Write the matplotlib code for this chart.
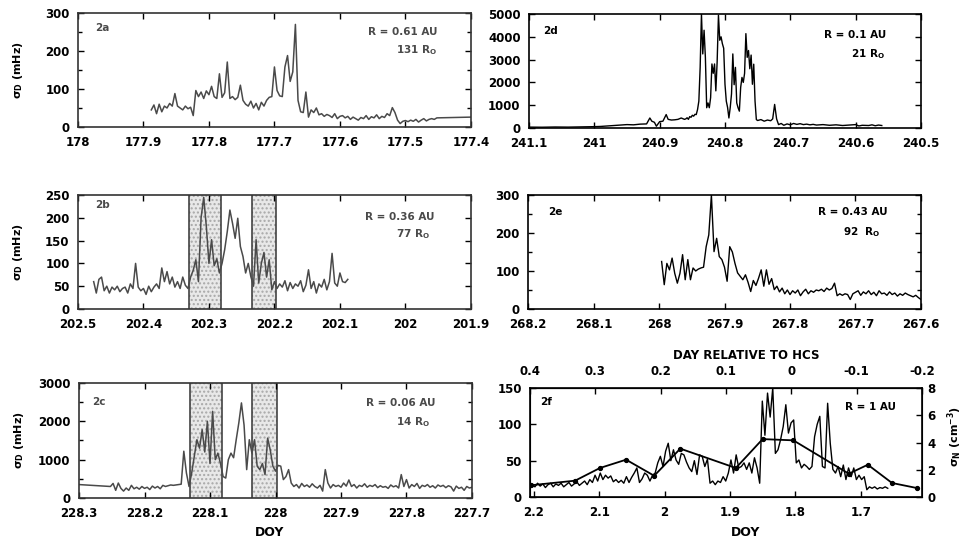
import matplotlib
matplotlib.use('Agg')
import matplotlib.pyplot as plt
import numpy as np
from matplotlib import ticker

plt.rcParams['font.family'] = ['DejaVu Sans']
plt.rcParams['font.weight'] = 'bold'
plt.rcParams['mathtext.fontset'] = 'custom'
plt.rcParams['mathtext.rm'] = 'DejaVu Sans:bold'
plt.rcParams['mathtext.it'] = 'DejaVu Sans:bold'
plt.rcParams['mathtext.bf'] = 'DejaVu Sans:bold'
plt.rcParams['axes.unicode_minus'] = False

# ---------------- data ----------------
# 2a  (R = 0.61 AU), sampled every 0.004 day from 177.888
a_start, a_step = 177.888, 0.004
a_vals = [45, 58, 35, 60, 40, 55, 50, 62, 55, 88, 55, 50, 45, 55, 48, 52, 30, 96, 80, 92,
          75, 95, 85, 107, 80, 75, 140, 78, 90, 171, 75, 80, 72, 78, 110, 70, 60, 55, 68, 50,
          62, 45, 65, 55, 70, 78, 80, 158, 96, 82, 80, 158, 188, 120, 145, 270, 70, 40, 38, 92,
          26, 45, 38, 50, 32, 35, 28, 33, 30, 25, 35, 22, 28, 30, 24, 28, 20, 26, 22, 18,
          25, 22, 30, 20, 27, 24, 32, 22, 28, 25, 35, 30, 51, 38, 18, 9, 15, 17, 14, 18,
          15, 20, 13, 18, 22, 16, 20, 22, 20, 24]
a_tail_doy = [177.4]
a_tail_val = [26]

# 2b  (R = 0.36 AU), every 0.004 day from 202.476
b_start, b_step = 202.476, 0.004
b_vals = [60, 35, 65, 70, 40, 50, 35, 48, 42, 50, 38, 45, 48, 35, 55, 45, 100, 48, 40, 45,
          32, 50, 38, 48, 55, 45, 90, 60, 82, 55, 70, 48, 60, 45, 70, 52, 45, 70, 85, 108,
          60, 200, 245, 181, 100, 152, 95, 110, 79, 100, 130, 170, 217, 188, 155, 199, 137, 115, 79, 100,
          71, 50, 152, 57, 100, 124, 70, 108, 42, 60, 45, 55, 48, 62, 40, 58, 45, 55, 50, 62,
          38, 52, 86, 45, 60, 35, 55, 48, 65, 42, 60, 122, 57, 50, 79, 60, 58, 65]
b_shade = [(202.330, 202.282), (202.234, 202.198)]

# 2c  (R = 0.06 AU), every 0.004 day from 228.252, plus first point
c_head_doy = [228.3]
c_head_val = [350]
c_start, c_step = 228.252, 0.004
c_vals = [300, 380, 200, 390, 250, 180, 260, 200, 330, 240, 280, 230, 300, 250, 280, 220, 310, 260, 300, 240,
          330, 300, 320, 340, 330, 340, 350, 360, 1220, 650, 300, 650, 1090, 1520, 1300, 1780, 1200, 2000, 900, 2260,
          1000, 1170, 900, 560, 520, 1000, 1170, 1050, 1520, 1960, 2480, 1900, 740, 1520, 1170, 1520, 830, 740, 900, 610,
          1560, 1250, 830, 700, 850, 830, 480, 560, 740, 390, 300, 350, 260, 380, 300, 340, 280, 370, 300, 260,
          330, 180, 740, 390, 260, 350, 300, 330, 280, 390, 310, 470, 300, 350, 260, 330, 300, 370, 280, 330,
          300, 350, 270, 320, 280, 300, 250, 340, 290, 320, 260, 610, 300, 480, 260, 350, 300, 380, 250, 330,
          300, 350, 280, 320, 260, 340, 300, 330, 270, 320, 290, 180, 310, 250, 280, 200, 300, 260, 280]
c_shade = [(228.130, 228.082), (228.036, 227.998)]

# 2d  (R = 0.1 AU)
d_pre_doy = [241.100, 241.08, 241.06, 241.04, 241.02, 241.00, 240.99, 240.98, 240.97, 240.96,
             240.95, 240.94, 240.93, 240.92, 240.915, 240.912, 240.908, 240.905, 240.90, 240.895,
             240.89, 240.887, 240.882, 240.877, 240.872, 240.867, 240.862]
d_pre_val = [40, 35, 45, 40, 50, 60, 70, 90, 110, 130,
             150, 140, 170, 180, 440, 300, 250, 80, 280, 300,
             590, 380, 350, 360, 380, 440, 380]
d_start, d_step = 240.860, 0.002
d_vals = [400, 450, 380, 500, 470, 560, 520, 600, 590, 810, 1180, 2660, 5000, 3250, 4290, 3100, 890, 1100, 890, 1330,
          2810, 2400, 2810, 1630, 2900, 4950, 3850, 4000, 3700, 3500, 1920, 1180, 900, 440, 890, 1500, 3250, 1900, 2660, 1100,
          890, 740, 1780, 2220, 2000, 2400, 4140, 3100, 3400, 2600, 3200, 1920, 2800, 1180, 370]
d_post_doy = [240.75, 240.745, 240.74, 240.735, 240.73, 240.727, 240.724, 240.721, 240.718, 240.714,
              240.71, 240.705, 240.70, 240.695, 240.69, 240.685, 240.68, 240.675, 240.67, 240.665,
              240.66, 240.65, 240.64, 240.63, 240.62, 240.61, 240.60, 240.595, 240.59, 240.58,
              240.575, 240.57, 240.565, 240.56]
d_post_val = [330, 370, 300, 350, 320, 400, 1035, 400, 150, 200,
              120, 180, 140, 200, 160, 190, 150, 170, 140, 160,
              130, 150, 120, 140, 110, 130, 150, 90, 120, 110,
              140, 100, 130, 110]

# 2e  (R = 0.43 AU), every 0.004 day from 267.996
e_start, e_step = 267.996, 0.004
e_vals = [125, 64, 120, 103, 134, 94, 68, 94, 143, 77, 130, 77, 108, 100, 105, 108, 110, 164, 195, 300,
          151, 186, 138, 130, 110, 73, 164, 150, 120, 95, 86, 77, 90, 70, 46, 75, 62, 81, 103, 60,
          103, 65, 80, 51, 60, 45, 55, 40, 50, 38, 48, 42, 50, 35, 45, 52, 40, 48, 44, 50,
          48, 52, 46, 55, 50, 54, 68, 35, 40, 36, 40, 38, 25, 40, 44, 48, 36, 45, 40, 48,
          38, 44, 35, 48, 40, 42, 36, 45, 38, 42, 34, 40, 36, 42, 38, 35, 32, 36, 30, 25]

# 2f  (R = 1 AU), sigma_D every 0.004 day from 2.2025
f_start, f_step = 2.2025, 0.004
f_vals = [17, 14, 19, 15, 18, 13, 17, 19, 14, 18, 16, 19, 14, 17, 20, 15, 18, 21, 16, 19,
          22, 17, 24, 20, 30, 22, 33, 24, 30, 26, 29, 21, 24, 20, 23, 19, 28, 20, 27, 33,
          40, 20, 25, 33, 30, 22, 30, 33, 47, 56, 42, 63, 74, 50, 65, 51, 45, 60, 58, 48,
          40, 35, 50, 31, 58, 56, 42, 52, 19, 22, 17, 22, 20, 28, 22, 33, 51, 33, 58, 40,
          42, 47, 38, 47, 33, 54, 40, 19, 132, 85, 143, 110, 150, 60, 65, 79, 97, 127, 88, 102,
          106, 47, 51, 40, 45, 42, 38, 42, 83, 100, 111, 42, 40, 129, 74, 38, 33, 42, 28, 44,
          24, 40, 28, 40, 24, 30, 24, 28, 10, 14, 12, 14, 11, 13, 12, 14, 12]
# sigma_N (right axis)
n_doy = [2.205, 2.137, 2.099, 2.059, 2.016, 1.976, 1.891, 1.850, 1.803, 1.718, 1.689, 1.652, 1.614]
n_val = [0.86, 1.2, 2.13, 2.74, 1.56, 3.55, 2.13, 4.25, 4.16, 1.71, 2.37, 1.03, 0.66]
hcs_offset = 1.806


def series(start, step, vals):
    return start - step * np.arange(len(vals)), np.array(vals, dtype=float)


GRAY = '#4a4a4a'
TS = 8.5   # tick label size
AS = 7.5   # annotation size
fig = plt.figure(figsize=(9.66, 5.42), dpi=100)


def make_axes(rect, xlim, xticks, ylim, yticks, yminor=None, frame='#333333'):
    ax = fig.add_axes(rect)
    ax.set_xlim(*xlim)
    ax.set_ylim(*ylim)
    ax.xaxis.set_major_locator(ticker.FixedLocator(xticks))
    ax.yaxis.set_major_locator(ticker.FixedLocator(yticks))
    if yminor is not None:
        ax.yaxis.set_minor_locator(ticker.FixedLocator(yminor))
    ax.xaxis.set_major_formatter(ticker.FormatStrFormatter('%g'))
    ax.yaxis.set_major_formatter(ticker.FormatStrFormatter('%g'))
    ax.tick_params(direction='in', top=True, right=True, length=4, width=1,
                   labelsize=TS, which='major')
    ax.tick_params(axis='x', pad=6.5)
    ax.tick_params(axis='y', pad=6)
    ax.tick_params(direction='in', top=True, right=True, length=3, width=1, which='minor')
    for s in ax.spines.values():
        s.set_linewidth(1.2)
        s.set_color(frame)
    for lab in ax.get_xticklabels() + ax.get_yticklabels():
        lab.set_fontweight('bold')
    return ax


def shade(ax, spans):
    for s0, s1 in spans:
        ax.axvspan(s0, s1, facecolor='#e8e8e8', edgecolor='#a8a8a8', lw=0, hatch='....', zorder=0)
        ax.axvline(s0, color='#333333', lw=1.1, zorder=1)
        ax.axvline(s1, color='#333333', lw=1.1, zorder=1)


def label(ax, tag, r1, r2, pos, color):
    ax.text(pos[0], pos[1], tag, transform=ax.transAxes, fontsize=AS, color=color,
            ha='left', va='center', fontweight='bold')
    ax.text(pos[2], pos[3], r1, transform=ax.transAxes, fontsize=AS, color=color,
            ha='right', va='center', fontweight='bold')
    if r2:
        ax.text(pos[4], pos[5], r2, transform=ax.transAxes, fontsize=AS, color=color,
                ha='right', va='center', fontweight='bold')


ylab = r'$\sigma_D$ (mHz)'


def set_ylab(ax):
    ax.set_ylabel(ylab, fontsize=8, fontweight='bold')
    ax.yaxis.set_label_coords(-0.135, 0.5)


# ---- 2a ----
ax = make_axes([0.0807, 0.7657, 0.4068, 0.2103], (178, 177.4),
               [178, 177.9, 177.8, 177.7, 177.6, 177.5, 177.4], (0, 300),
               [0, 100, 200, 300], [50, 150, 250])
x, y = series(a_start, a_step, a_vals)
ax.plot(np.r_[x, a_tail_doy], np.r_[y, a_tail_val], color=GRAY, lw=1.1)
label(ax, '2a', 'R = 0.61 AU', r'131 R$_O$', (0.043, 0.87, 0.916, 0.833, 0.913, 0.675), GRAY)
set_ylab(ax)

# ---- 2b ----
ax = make_axes([0.0807, 0.4299, 0.4068, 0.2103], (202.5, 201.9),
               [202.5, 202.4, 202.3, 202.2, 202.1, 202, 201.9], (0, 250),
               [0, 50, 100, 150, 200, 250])
shade(ax, b_shade)
x, y = series(b_start, b_step, b_vals)
ax.plot(x, y, color=GRAY, lw=1.1)
label(ax, '2b', 'R = 0.36 AU', r'77 R$_O$', (0.043, 0.91, 0.908, 0.81, 0.896, 0.66), GRAY)
set_ylab(ax)

# ---- 2c ----
ax = make_axes([0.0818, 0.0812, 0.4068, 0.2122], (228.3, 227.7),
               [228.3, 228.2, 228.1, 228, 227.9, 227.8, 227.7], (0, 3000),
               [0, 1000, 2000, 3000], [500, 1500, 2500])
shade(ax, c_shade)
x, y = series(c_start, c_step, c_vals)
ax.plot(np.r_[c_head_doy, x], np.r_[c_head_val, y], color=GRAY, lw=1.1)
label(ax, '2c', 'R = 0.06 AU', r'14 R$_O$', (0.033, 0.835, 0.906, 0.826, 0.893, 0.66), GRAY)
set_ylab(ax)
fig.text(0.2795, 0.017, 'DOY', ha='center', va='center', fontsize=9, fontweight='bold')

# ---- 2d ----
ax = make_axes([0.5476, 0.7638, 0.4058, 0.2103], (241.1, 240.5),
               [241.1, 241, 240.9, 240.8, 240.7, 240.6, 240.5], (0, 5000),
               [0, 1000, 2000, 3000, 4000, 5000], frame='black')
x, y = series(d_start, d_step, d_vals)
ax.plot(np.r_[d_pre_doy, x, d_post_doy], np.r_[d_pre_val, y, d_post_val], color='black', lw=1.0)
label(ax, '2d', 'R = 0.1 AU', r'21 R$_O$', (0.036, 0.85, 0.911, 0.816, 0.908, 0.65), 'black')

# ---- 2e ----
ax = make_axes([0.5466, 0.4299, 0.4068, 0.2103], (268.2, 267.6),
               [268.2, 268.1, 268, 267.9, 267.8, 267.7, 267.6], (0, 300),
               [0, 100, 200, 300], [50, 150, 250], frame='black')
x, y = series(e_start, e_step, e_vals)
ax.plot(x, y, color='black', lw=1.0)
label(ax, '2e', 'R = 0.43 AU', r'92  R$_O$', (0.051, 0.85, 0.916, 0.85, 0.896, 0.675), 'black')

# ---- 2f ----
ax = make_axes([0.5487, 0.0830, 0.4058, 0.2011], (2.206, 1.606),
               [2.2, 2.1, 2.0, 1.9, 1.8, 1.7], (0, 150),
               [0, 50, 100, 150], frame='black')
ax.tick_params(top=False, right=False)
x, y = series(f_start, f_step, f_vals)
ax.plot(x, y, color='black', lw=1.0)
label(ax, '2f', 'R = 1 AU', None, (0.026, 0.87, 0.934, 0.826), 'black')
top = ax.secondary_xaxis('top', functions=(lambda v: v - hcs_offset, lambda v: v + hcs_offset))
top.xaxis.set_major_locator(ticker.FixedLocator([0.4, 0.3, 0.2, 0.1, 0, -0.1, -0.2]))
top.xaxis.set_major_formatter(ticker.FormatStrFormatter('%g'))
top.tick_params(direction='in', length=4, width=1, labelsize=TS, pad=7)
for lab in top.get_xticklabels():
    lab.set_fontweight('bold')
tw = ax.twinx()
tw.set_ylim(0, 8)
tw.yaxis.set_major_locator(ticker.FixedLocator([0, 2, 4, 6, 8]))
tw.yaxis.set_major_formatter(ticker.FormatStrFormatter('%g'))
tw.tick_params(direction='in', length=4, width=1, labelsize=TS, pad=4)
for lab in tw.get_yticklabels():
    lab.set_fontweight('bold')
tw.plot(n_doy, n_val, color='black', lw=1.3, marker='o', ms=2.8)
fig.text(0.772, 0.345, 'DAY RELATIVE TO HCS', ha='center', va='center', fontsize=8.5, fontweight='bold')
fig.text(0.772, 0.017, 'DOY', ha='center', va='center', fontsize=9, fontweight='bold')
fig.text(0.988, 0.194, r'$\sigma_N$ (cm$^{-3}$)', ha='center', va='center', rotation=90,
         fontsize=8, fontweight='bold')

fig.savefig('out.png', dpi=100)
